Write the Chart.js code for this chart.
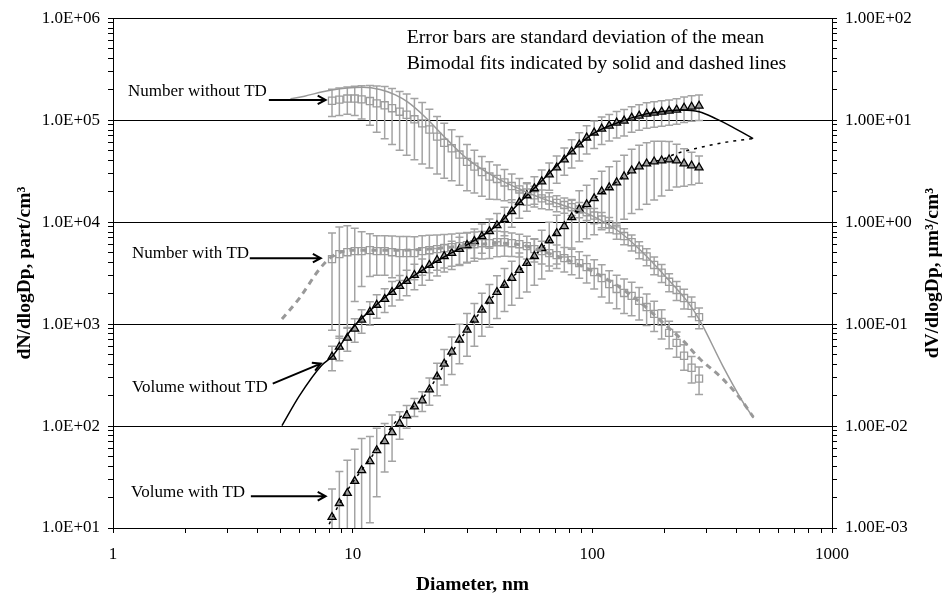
<!DOCTYPE html>
<html>
<head>
<meta charset="utf-8">
<script src="https://cdn.jsdelivr.net/npm/chart.js@4.4.1/dist/chart.umd.min.js"></script>
<style>
  html, body { margin: 0; padding: 0; background: #fff; }
</style>
</head>
<body>
<canvas id="chart" width="945" height="594"></canvas>
<script>
// measured size distributions (diameter in nm)
const diameters = [8.2, 8.8, 9.5, 10.2, 10.9, 11.8, 12.6, 13.6, 14.6, 15.7, 16.8, 18.1, 19.5, 20.9, 22.5, 24.1, 25.9, 27.9, 30.0, 32.2,
  34.6, 37.2, 40.0, 43.0, 46.1, 49.6, 53.3, 57.3, 61.5, 66.1, 71.0, 76.4, 82.0, 88.2, 94.7, 101.8, 109.4, 117.6, 126.3, 135.7,
  145.9, 156.8, 168.5, 181.1, 194.6, 209.1, 224.7, 241.4, 259.5, 278.8];

const numberNoTD = [155000, 159000, 163000, 163000, 160000, 154000, 146000, 140000, 131000, 121000,
  113000, 102000, 93000, 81000, 69000, 60000, 53000, 46000, 39000, 35000,
  31000, 28000, 26500, 24500, 22600, 20900, 19500, 18300, 17100, 16300,
  15400, 14700, 14000, 13300, 12500, 11600, 10600, 9500, 8300, 7300,
  6350, 5400, 4600, 3800, 3200, 2600, 2160, 1800, 1510, 1170];
const numberNoTDErr = [0.30, 0.30, 0.30, 0.32, 0.36, 0.42, 0.48, 0.53, 0.56, 0.58,
  0.60, 0.60, 0.60, 0.58, 0.57, 0.55, 0.52, 0.50, 0.48, 0.45,
  0.42, 0.40, 0.37, 0.34, 0.31, 0.28, 0.25, 0.23, 0.21, 0.19,
  0.18, 0.17, 0.17, 0.17, 0.17, 0.17, 0.17, 0.17, 0.18, 0.18,
  0.18, 0.19, 0.19, 0.20, 0.20, 0.20, 0.21, 0.22, 0.22, 0.23];

const numberTD = [4340, 4850, 5070, 5190, 5190, 5310, 5190, 5190, 5070, 4960,
  4960, 4960, 5190, 5310, 5430, 5550, 5680, 5810, 5940, 6070,
  6210, 6210, 6350, 6350, 6210, 6070, 5810, 5430, 5190, 4960,
  4740, 4430, 4240, 3960, 3620, 3240, 2830, 2470, 2210, 2020,
  1890, 1690, 1470, 1260, 1050, 820, 655, 489, 373, 292];
const numberTDErr = [0.80, 0.85, 0.82, 0.68, 0.55, 0.45, 0.42, 0.42, 0.44, 0.46,
  0.46, 0.45, 0.42, 0.40, 0.38, 0.36, 0.35, 0.34, 0.33, 0.32,
  0.30, 0.29, 0.28, 0.27, 0.26, 0.25, 0.25, 0.25, 0.25, 0.25,
  0.26, 0.27, 0.28, 0.29, 0.30, 0.32, 0.35, 0.35, 0.36, 0.37,
  0.36, 0.35, 0.34, 0.33, 0.32, 0.30, 0.28, 0.28, 0.29, 0.30];

const volumeNoTD = [0.0478, 0.0598, 0.0733, 0.0897, 0.110, 0.1315, 0.154, 0.176, 0.206, 0.236,
  0.264, 0.302, 0.338, 0.379, 0.424, 0.463, 0.496, 0.543, 0.594, 0.649,
  0.727, 0.813, 0.930, 1.065, 1.275, 1.561, 1.827, 2.138, 2.502, 2.930,
  3.429, 4.106, 4.914, 5.751, 6.732, 7.535, 8.24, 8.818, 9.432, 9.866,
  10.55, 11.04, 11.55, 11.81, 12.08, 12.35, 12.64, 13.21, 13.52, 13.82];
const volumeNoTDErr = [0.27, 0.27, 0.26, 0.26, 0.26, 0.26, 0.26, 0.26, 0.27, 0.27,
  0.28, 0.28, 0.29, 0.29, 0.30, 0.30, 0.31, 0.31, 0.32, 0.32,
  0.32, 0.32, 0.31, 0.31, 0.30, 0.30, 0.30, 0.30, 0.30, 0.30,
  0.30, 0.30, 0.31, 0.31, 0.31, 0.30, 0.30, 0.29, 0.29, 0.29,
  0.28, 0.28, 0.28, 0.28, 0.28, 0.28, 0.28, 0.28, 0.28, 0.28];

const volumeTD = [0.00128, 0.00175, 0.0022, 0.00288, 0.00368, 0.00451, 0.00578, 0.00708, 0.00866, 0.0106,
  0.0127, 0.0155, 0.0178, 0.0228, 0.0305, 0.0408, 0.0535, 0.0702, 0.0878, 0.110,
  0.138, 0.169, 0.206, 0.242, 0.283, 0.338, 0.396, 0.463, 0.555, 0.664,
  0.777, 0.910, 1.114, 1.334, 1.492, 1.708, 2.0, 2.187, 2.447, 2.802,
  3.206, 3.507, 3.752, 3.925, 4.013, 4.106, 4.013, 3.752, 3.587, 3.429];
const volumeTDErr = [0.88, 1.05, 1.10, 1.05, 1.05, 0.75, 0.65, 0.50, 0.48, 0.30,
  0.25, 0.20, 0.22, 0.30, 0.35, 0.38, 0.40, 0.42, 0.45, 0.45,
  0.45, 0.45, 0.45, 0.45, 0.46, 0.47, 0.48, 0.48, 0.50, 0.50,
  0.50, 0.50, 0.50, 0.52, 0.54, 0.56, 0.58, 0.60, 0.62, 0.62,
  0.62, 0.62, 0.60, 0.58, 0.55, 0.50, 0.45, 0.40, 0.35, 0.30];

// bimodal fits
const fitNumNoTD_d = [5.5, 6.3, 7.5, 8.2, 9.5, 11, 13, 15, 17, 20, 25, 30, 40, 50, 60, 80, 100, 130, 160, 200, 250, 280, 350, 420, 470];
const fitNumNoTD_n = [162000, 172000, 190000, 198000, 207000, 210000, 200000, 178000, 150000, 108000, 63000, 42000, 27000, 21000, 17500, 14000, 11500, 8000, 5200, 3000, 1650, 1100, 390, 180, 120];

const fitNumTD_d = [5.07, 6.0, 7.3, 8.2, 10, 15, 20, 30, 40, 50, 60, 80, 100, 130, 160, 200, 240, 280, 350, 420, 470];
const fitNumTD_n = [1120, 1800, 3500, 4600, 5300, 5300, 5400, 5900, 6200, 6000, 5300, 4200, 3300, 2300, 1600, 1000, 680, 460, 290, 178, 122];

const fitVolNoTD_d = [5.07, 6.0, 7.4, 8.2, 10, 12, 15, 20, 25, 30, 40, 50, 60, 80, 100, 130, 160, 200, 237, 279, 329, 383, 469];
const fitVolNoTD_v = [0.0101, 0.0199, 0.0391, 0.048, 0.092, 0.14, 0.22, 0.35, 0.48, 0.60, 0.93, 1.58, 2.4, 4.7, 7.3, 9.6, 11.2, 12.2, 12.6, 12.1, 10.3, 8.6, 6.6];

const fitVolTD_d = [7.5, 8.2, 9, 10, 12, 15, 20, 25, 30, 40, 50, 60, 80, 100, 130, 160, 200, 224, 279, 337, 400, 469];
const fitVolTD_v = [0.00078, 0.00125, 0.0019, 0.0028, 0.0050, 0.0108, 0.020, 0.046, 0.088, 0.206, 0.34, 0.52, 1.05, 1.65, 2.6, 3.55, 4.2, 4.7, 5.37, 5.9, 6.3, 6.6];

// tick labels
const xTickLabels = ['1', '10', '100', '1000'];
const yTickLabels = ['1.0E+01', '1.0E+02', '1.0E+03', '1.0E+04', '1.0E+05', '1.0E+06'];
const y2TickLabels = ['1.00E-03', '1.00E-02', '1.00E-01', '1.00E+00', '1.00E+01', '1.00E+02'];

// annotations, placed in data units (x: nm, y: left axis)
const labelTexts = ['Number without TD', 'Number with TD', 'Volume without TD', 'Volume with TD'];
const labelAt = [[1.155, 1.89e5], [1.2, 4.96e3], [1.2, 238], [1.19, 22.5]];
const arrowFrom = [[4.47, 1.58e5], [3.72, 4.43e3], [4.64, 261], [3.76, 20.5]];
const arrowTo = [[7.71, 1.58e5], [7.36, 4.43e3], [7.36, 409], [7.71, 20.5]];
const noteLines = ['Error bars are standard deviation of the mean', 'Bimodal fits indicated by solid and dashed lines'];
const noteAt = [[16.8, 6.38e5], [16.8, 3.55e5]];

const SERIF = '"Liberation Serif", "Times New Roman", serif';

function pairs(xs, ys) {
  return xs.map((v, i) => ({ x: v, y: ys[i] }));
}

function isDecade(v) {
  const l = Math.log10(v);
  return Math.abs(l - Math.round(l)) < 1e-6;
}

function logTicks(lo, hi) {
  const t = [];
  for (let e = lo; e < hi; e++) {
    for (let m = 1; m < 10; m++) t.push({ value: +(m * Math.pow(10, e)).toPrecision(3) });
  }
  t.push({ value: Math.pow(10, hi) });
  return t;
}

function logAxis(position, lo, hi, labels, onArea) {
  return {
    type: 'logarithmic',
    position: position,
    min: Math.pow(10, lo),
    max: Math.pow(10, hi),
    afterBuildTicks: function (scale) { scale.ticks = logTicks(lo, hi); },
    afterFit: function (scale) {
      if (position === 'bottom') scale.height = 66;
      else scale.width = 113;
    },
    border: { display: true, color: '#000', width: 1 },
    grid: {
      drawOnChartArea: onArea,
      drawTicks: true,
      tickLength: 5,
      tickColor: '#000',
      lineWidth: 1,
      color: function (ctx) { return ctx.tick && isDecade(ctx.tick.value) ? '#000' : 'rgba(0,0,0,0)'; }
    },
    ticks: {
      autoSkip: false,
      maxRotation: 0,
      minRotation: 0,
      padding: position === 'bottom' ? 11 : 8,
      color: '#000',
      font: { family: SERIF, size: 17 },
      callback: function (value) {
        if (!isDecade(value)) return '';
        return labels[Math.round(Math.log10(value)) - lo];
      }
    }
  };
}

const errorBars = {
  id: 'errorBars',
  beforeDatasetsDraw(chart) {
    const ctx = chart.ctx, a = chart.chartArea;
    ctx.save();
    ctx.beginPath();
    ctx.rect(a.left, a.top, a.right - a.left, a.bottom - a.top);
    ctx.clip();
    ctx.strokeStyle = '#a3a3a3';
    ctx.lineWidth = 1.5;
    chart.data.datasets.forEach(function (ds, i) {
      if (!ds.errRel) return;
      const meta = chart.getDatasetMeta(i);
      const ys = chart.scales[ds.yAxisID];
      meta.data.forEach(function (pt, j) {
        const v = ds.data[j].y, r = ds.errRel[j];
        const top = ys.getPixelForValue(v * (1 + r));
        const lo = v * (1 - r);
        const bot = lo > 0 ? ys.getPixelForValue(lo) : a.bottom + 20;
        ctx.beginPath();
        ctx.moveTo(pt.x, top); ctx.lineTo(pt.x, bot);
        ctx.moveTo(pt.x - 4, top); ctx.lineTo(pt.x + 4, top);
        ctx.moveTo(pt.x - 4, bot); ctx.lineTo(pt.x + 4, bot);
        ctx.stroke();
      });
    });
    ctx.restore();
  }
};

const decorations = {
  id: 'decorations',
  afterDraw(chart) {
    const ctx = chart.ctx, a = chart.chartArea;
    const x = chart.scales.x, y = chart.scales.y;
    ctx.save();
    ctx.fillStyle = '#000';
    ctx.strokeStyle = '#000';
    ctx.textBaseline = 'middle';
    ctx.textAlign = 'left';
    ctx.font = '17px ' + SERIF;
    labelTexts.forEach(function (t, i) {
      ctx.fillText(t, x.getPixelForValue(labelAt[i][0]), y.getPixelForValue(labelAt[i][1]));
    });
    ctx.font = '19.8px ' + SERIF;
    noteLines.forEach(function (t, i) {
      ctx.fillText(t, x.getPixelForValue(noteAt[i][0]), y.getPixelForValue(noteAt[i][1]));
    });

    ctx.lineWidth = 2;
    arrowFrom.forEach(function (f, i) {
      const x0 = x.getPixelForValue(f[0]), y0 = y.getPixelForValue(f[1]);
      const x1 = x.getPixelForValue(arrowTo[i][0]), y1 = y.getPixelForValue(arrowTo[i][1]);
      const ang = Math.atan2(y1 - y0, x1 - x0);
      ctx.beginPath();
      ctx.moveTo(x0, y0); ctx.lineTo(x1, y1);
      ctx.moveTo(x1 - 9 * Math.cos(ang - 0.5), y1 - 9 * Math.sin(ang - 0.5));
      ctx.lineTo(x1, y1);
      ctx.lineTo(x1 - 9 * Math.cos(ang + 0.5), y1 - 9 * Math.sin(ang + 0.5));
      ctx.stroke();
    });

    // axis titles
    ctx.font = 'bold 19.5px ' + SERIF;
    ctx.textAlign = 'center';
    const midY = (a.top + a.bottom) / 2;
    ctx.fillText('Diameter, nm', (a.left + a.right) / 2, a.bottom + 57);
    ctx.save();
    ctx.translate(a.left - 88, midY);
    ctx.rotate(-Math.PI / 2);
    ctx.fillText('dN/dlogDp, part/cm³', 0, 0);
    ctx.restore();
    ctx.save();
    ctx.translate(a.right + 101, midY);
    ctx.rotate(-Math.PI / 2);
    ctx.fillText('dV/dlogDp, µm³/cm³', 0, 0);
    ctx.restore();
    ctx.restore();
  }
};

new Chart(document.getElementById('chart'), {
  type: 'scatter',
  data: {
    datasets: [
      { data: pairs(fitNumNoTD_d, fitNumNoTD_n), yAxisID: 'y', showLine: true, borderColor: '#999999', borderWidth: 1.5,
        pointRadius: 0, cubicInterpolationMode: 'monotone', order: 0 },
      { data: pairs(fitNumTD_d, fitNumTD_n), yAxisID: 'y', showLine: true, borderColor: '#999999', borderWidth: 3,
        borderDash: [6, 5], pointRadius: 0, cubicInterpolationMode: 'monotone', order: 0 },
      { data: pairs(fitVolNoTD_d, fitVolNoTD_v), yAxisID: 'y2', showLine: true, borderColor: '#000', borderWidth: 1.5,
        pointRadius: 0, cubicInterpolationMode: 'monotone', order: 0 },
      { data: pairs(fitVolTD_d, fitVolTD_v), yAxisID: 'y2', showLine: true, borderColor: '#000', borderWidth: 1.5,
        borderDash: [3, 5], pointRadius: 0, cubicInterpolationMode: 'monotone', order: 0 },
      { data: pairs(diameters, volumeNoTD), errRel: volumeNoTDErr, yAxisID: 'y2', pointStyle: 'triangle', pointRadius: 4.6,
        pointBorderColor: '#000', pointBackgroundColor: '#9c9c9c', pointBorderWidth: 1.3, order: 1 },
      { data: pairs(diameters, volumeTD), errRel: volumeTDErr, yAxisID: 'y2', pointStyle: 'triangle', pointRadius: 4.6,
        pointBorderColor: '#000', pointBackgroundColor: '#9c9c9c', pointBorderWidth: 1.3, order: 1 },
      { data: pairs(diameters, numberNoTD), errRel: numberNoTDErr, yAxisID: 'y', pointStyle: 'rect', pointRadius: 5,
        pointBorderColor: '#9c9c9c', pointBackgroundColor: 'rgba(255,255,255,0)', pointBorderWidth: 1.3, order: 2 },
      { data: pairs(diameters, numberTD), errRel: numberTDErr, yAxisID: 'y', pointStyle: 'rect', pointRadius: 5,
        pointBorderColor: '#9c9c9c', pointBackgroundColor: 'rgba(255,255,255,0)', pointBorderWidth: 1.3, order: 2 }
    ]
  },
  options: {
    responsive: false,
    animation: false,
    devicePixelRatio: 1,
    layout: { padding: { top: 16, left: 0, right: 0, bottom: 0 } },
    plugins: { legend: { display: false }, tooltip: { enabled: false } },
    scales: {
      x: logAxis('bottom', 0, 3, xTickLabels, false),
      y: logAxis('left', 1, 6, yTickLabels, true),
      y2: logAxis('right', -3, 2, y2TickLabels, false)
    }
  },
  plugins: [errorBars, decorations]
});
</script>
</body>
</html>
